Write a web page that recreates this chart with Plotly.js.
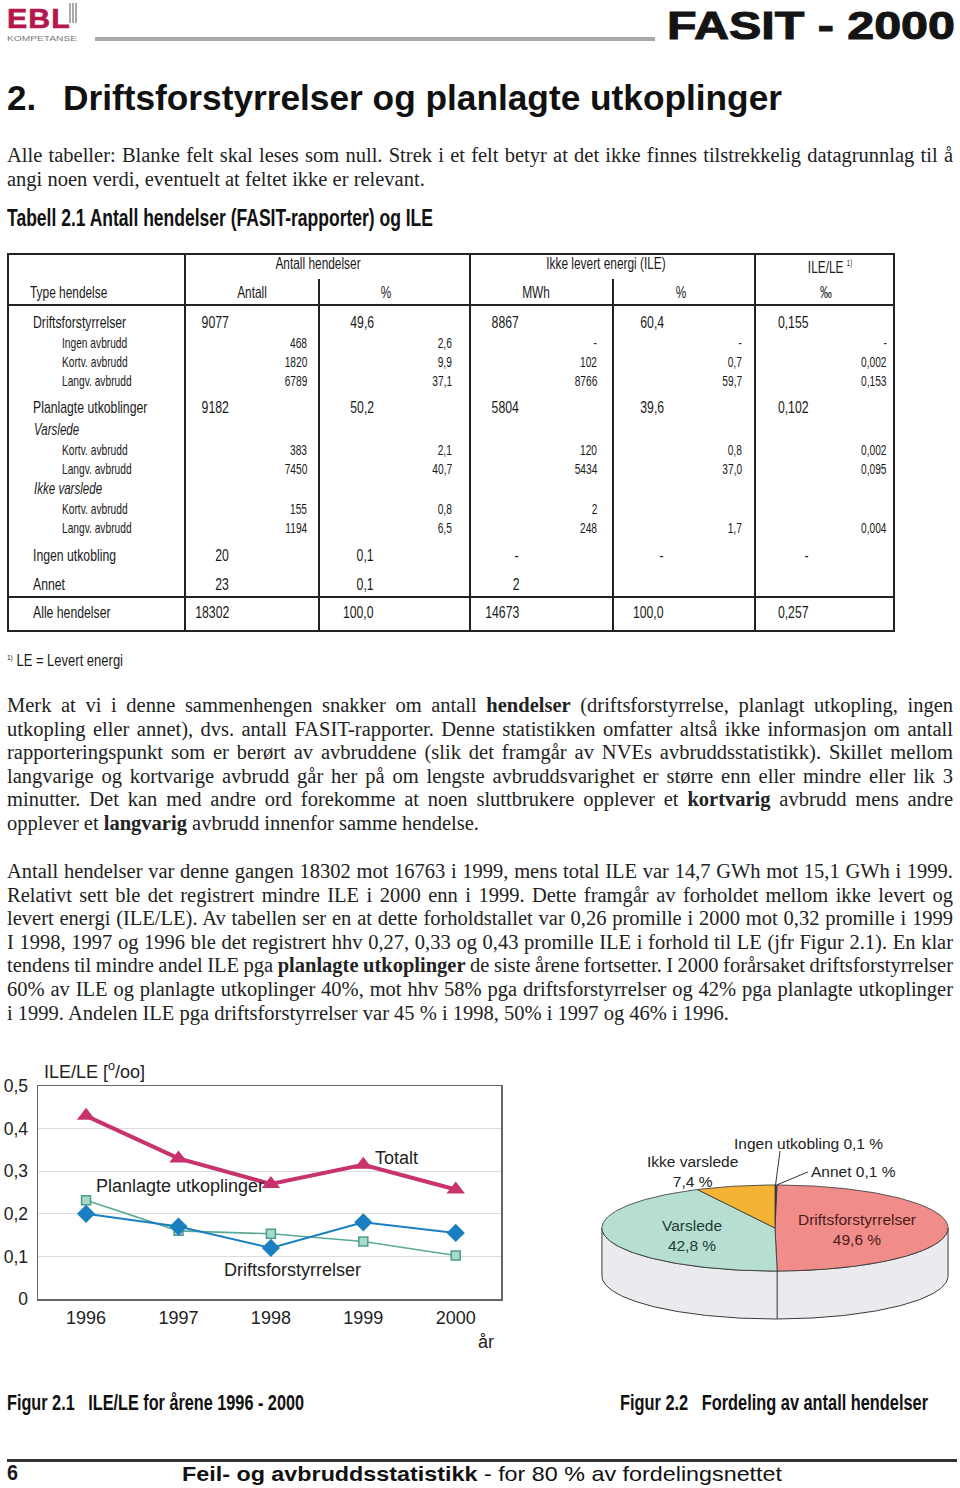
<!DOCTYPE html>
<html>
<head>
<meta charset="utf-8">
<script src="https://cdn.plot.ly/plotly-3.0.1.min.js"></script>
<style>
  html, body { margin: 0; padding: 0; background: #fff; }
  #page { position: relative; width: 960px; height: 1488px; overflow: hidden;
          font-family: "Liberation Sans", Arial, sans-serif; color: #1a1a1a; }
  .abs { position: absolute; white-space: nowrap; }
  .serif { font-family: "Liberation Serif", "Times New Roman", serif; font-size: 20.5px;
           line-height: 23.6px; color: #222; }
  .pline { position: absolute; left: 7px; white-space: nowrap; }
  .rule { position: absolute; background: #222; }
  sup.fn { font-size: 0.5em; vertical-align: 0.8em; }
  #lineChart { position: absolute; left: 0; top: 1050px; width: 520px; height: 320px; }
  #pieChart { position: absolute; left: 590px; top: 1120px; width: 370px; height: 220px; }
</style>
</head>
<body>
<div id="page">
  <div id="lineChart"></div>
  <div id="pieChart"></div>
</div>
<script>
// ---------------- DATA ----------------
// Table 2.1
const rowLabels = ["Driftsforstyrrelser", "Ingen avbrudd", "Kortv. avbrudd", "Langv. avbrudd",
  "Planlagte utkoblinger", "Varslede", "Kortv. avbrudd", "Langv. avbrudd",
  "Ikke varslede", "Kortv. avbrudd", "Langv. avbrudd", "Ingen utkobling", "Annet", "Alle hendelser"];
const rowKinds = ["main", "sub", "sub", "sub", "main", "group", "sub", "sub", "group", "sub", "sub", "main", "main", "total"];
const colAntall = ["9077", "468", "1820", "6789", "9182", "", "383", "7450", "", "155", "1194", "20", "23", "18302"];
const colAntallPct = ["49,6", "2,6", "9,9", "37,1", "50,2", "", "2,1", "40,7", "", "0,8", "6,5", "0,1", "0,1", "100,0"];
const colMWh = ["8867", "-", "102", "8766", "5804", "", "120", "5434", "", "2", "248", "-", "2", "14673"];
const colIlePct = ["60,4", "-", "0,7", "59,7", "39,6", "", "0,8", "37,0", "", "", "1,7", "-", "", "100,0"];
const colIleLe = ["0,155", "-", "0,002", "0,153", "0,102", "", "0,002", "0,095", "", "", "0,004", "-", "", "0,257"];
const headerTop = ["Antall hendelser", "Ikke levert energi (ILE)", "ILE/LE <sup class='fn'>1)</sup>"];
const headerSub = ["Type hendelse", "Antall", "%", "MWh", "%", "‰"];

// Figure 2.1: ILE/LE per year (promille)
const years = [1996, 1997, 1998, 1999, 2000];
const ileleTotalt = [0.43, 0.33, 0.27, 0.315, 0.257];
const ileleDrift = [0.20, 0.17, 0.12, 0.18, 0.155];
const ilelePlan = [0.232, 0.16, 0.153, 0.135, 0.102];
const lineSeriesNames = ["Totalt", "Planlagte utkoplinger", "Driftsforstyrrelser"];

// Figure 2.2: share of events (%)
const pieLabels = ["Ingen utkobling", "Annet", "Driftsforstyrrelser", "Varslede", "Ikke varslede"];
const pieValues = [0.1, 0.1, 49.6, 42.8, 7.4];

// ---------------- STYLE / LAYOUT ----------------
const page = document.getElementById('page');
const W = 960;

function el(html, cls) {
  const s = document.createElement('span');
  s.className = 'abs ' + (cls || '');
  s.innerHTML = html;
  page.appendChild(s);
  return s;
}
function place(html, x, yc, align, size, sx, extra) {
  const s = el(html);
  s.style.fontSize = size + 'px';
  s.style.lineHeight = (size * 1.2) + 'px';
  s.style.top = (yc - size * 0.59) + 'px';
  if (extra) Object.assign(s.style, extra);
  if (align === 'left') {
    s.style.left = x + 'px'; s.style.transformOrigin = 'left center';
    s.style.transform = 'scaleX(' + sx + ')';
  } else if (align === 'right') {
    s.style.right = (W - x) + 'px'; s.style.transformOrigin = 'right center';
    s.style.transform = 'scaleX(' + sx + ')';
  } else {
    s.style.left = x + 'px'; s.style.transformOrigin = 'center center';
    s.style.transform = 'translateX(-50%) scaleX(' + sx + ')';
  }
  return s;
}
function fitLeft(html, x, yc, size, width, extra) {
  const s = place(html, x, yc, 'left', size, 1, extra);
  s.style.transform = 'none';
  const w = s.getBoundingClientRect().width;
  s.style.transform = 'scaleX(' + (width / w) + ')';
  return s;
}
function rect(x, y, w, h, color) {
  const d = document.createElement('div');
  d.className = 'rule';
  d.style.left = x + 'px'; d.style.top = y + 'px';
  d.style.width = w + 'px'; d.style.height = h + 'px';
  if (color) d.style.background = color;
  page.appendChild(d);
  return d;
}
function justifyLine(s, target) {
  const w = s.getBoundingClientRect().width;
  const n = (s.textContent.trim().match(/\s+/g) || []).length;
  if (!n) return;
  let ws = (target - w) / n;
  if (ws < -1.2) {
    ws = -1.2;
    const w2 = w + ws * n;
    s.style.transformOrigin = 'left center';
    s.style.transform = 'scaleX(' + (target / w2) + ')';
  }
  s.style.wordSpacing = ws + 'px';
}
function paragraph(lines, top, lastFull) {
  lines.forEach((ln, i) => {
    const s = document.createElement('span');
    s.className = 'pline serif';
    s.innerHTML = ln;
    s.style.top = (top + i * 23.6) + 'px';
    page.appendChild(s);
    if (i < lines.length - 1 || lastFull) justifyLine(s, 946);
  });
}
function setBaseline(s, size, baseline) {
  s.style.lineHeight = (size * 1.12) + 'px';
  s.style.top = (baseline - size * 0.906) + 'px';
}

// ---- Header ----
const logo = fitLeft('EBL', 7, 17, 27, 64, { fontWeight: '900', color: '#b3174c', letterSpacing: '1px' });
logo.style.webkitTextStroke = '0.6px #b3174c';
setBaseline(logo, 27, 28.5);
const komp = fitLeft('KOMPETANSE', 7, 38, 7, 70, { color: '#777' });
setBaseline(komp, 7, 41);
rect(69, 3, 1.5, 20, '#aaa'); rect(72, 3, 1.5, 20, '#aaa'); rect(75, 3, 1.5, 20, '#aaa');
rect(95, 37, 560, 4, '#a9a9a9');
const fasit = fitLeft('FASIT - 2000', 667, 26, 39, 288, { fontWeight: 'bold', color: '#141414' });
fasit.style.webkitTextStroke = '1px #141414';

// ---- Heading ----
place('2.', 7, 97.5, 'left', 35, 1, { fontWeight: 'bold', color: '#111' });
fitLeft('Driftsforstyrrelser og planlagte utkoplinger', 63, 97.5, 35, 719, { fontWeight: 'bold', color: '#111' });

// ---- Paragraph 1 ----
paragraph([
  "Alle tabeller: Blanke felt skal leses som null. Strek i et felt betyr at det ikke finnes tilstrekkelig datagrunnlag til å",
  "angi noen verdi, eventuelt at feltet ikke er relevant."
], 144, false);

// ---- Table title ----
fitLeft('Tabell 2.1 Antall hendelser (FASIT-rapporter) og ILE', 7, 218, 24, 426, { fontWeight: 'bold', color: '#111' });

// ---- Table frame ----
const T = { x0: 7, x1: 895, y0: 253, y1: 632 };
const tf = document.createElement('div');
tf.style.cssText = 'position:absolute;left:' + T.x0 + 'px;top:' + T.y0 + 'px;width:' + (T.x1 - T.x0) +
  'px;height:' + (T.y1 - T.y0) + 'px;border:2.5px solid #222;box-sizing:border-box;';
page.appendChild(tf);
rect(T.x0, 304, T.x1 - T.x0, 2);
rect(T.x0, 596, T.x1 - T.x0, 2);
[185, 470, 755].forEach(x => rect(x - 0.75, T.y0, 1.5, T.y1 - T.y0));
[319, 613].forEach(x => rect(x - 0.75, 279, 1.5, T.y1 - 279));

// header texts
const hTopX = [318, 606, 830];
headerTop.forEach((t, i) => place(t, hTopX[i], 264, 'center', 16.5, 0.72));
place(headerSub[0], 30, 293, 'left', 16.5, 0.72);
const hSubX = [252, 386, 536, 681, 826];
headerSub.slice(1).forEach((t, i) => place(t, hSubX[i], 293, 'center', 16.5, 0.72));

// rows
const rowY = [323, 343, 362, 381, 408, 430, 450, 469, 489, 509, 528, 556, 585, 613];
const mainRight = [229, 374, 519, 664, 809];
const subRight = [307, 452, 597, 742, 887];
const kindStyle = {
  main: { size: 17, sx: 0.72, lx: 33, italic: false },
  total: { size: 17, sx: 0.72, lx: 33, italic: false },
  sub: { size: 15, sx: 0.68, lx: 62, italic: false },
  group: { size: 17, sx: 0.68, lx: 34, italic: true }
};
const cols = [colAntall, colAntallPct, colMWh, colIlePct, colIleLe];
rowLabels.forEach((lab, r) => {
  const st = kindStyle[rowKinds[r]];
  const extra = st.italic ? { fontStyle: 'italic' } : null;
  place(lab, st.lx, rowY[r], 'left', st.size, st.sx, extra);
  const rights = rowKinds[r] === 'sub' ? subRight : mainRight;
  cols.forEach((col, c) => {
    if (col[r] !== '') place(col[r], rights[c], rowY[r], 'right', st.size, st.sx);
  });
});

// footnote
fitLeft("<sup class='fn'>1)</sup> LE = Levert energi", 7, 657, 16, 116);

// ---- Paragraph 2 ----
paragraph([
  "Merk at vi i denne sammenhengen snakker om antall <b>hendelser</b> (driftsforstyrrelse, planlagt utkopling, ingen",
  "utkopling eller annet), dvs. antall FASIT-rapporter. Denne statistikken omfatter altså ikke informasjon om antall",
  "rapporteringspunkt som er berørt av avbruddene (slik det framgår av NVEs avbruddsstatistikk). Skillet mellom",
  "langvarige og kortvarige avbrudd går her på om lengste avbruddsvarighet er større enn eller mindre eller lik 3",
  "minutter. Det kan med andre ord forekomme at noen sluttbrukere opplever et <b>kortvarig</b> avbrudd mens andre",
  "opplever et <b>langvarig</b> avbrudd innenfor samme hendelse."
], 694, false);

// ---- Paragraph 3 ----
paragraph([
  "Antall hendelser var denne gangen 18302 mot 16763  i 1999, mens total ILE var 14,7 GWh mot 15,1 GWh i 1999.",
  "Relativt sett ble det registrert mindre ILE i 2000 enn i 1999. Dette framgår av forholdet mellom ikke levert og",
  "levert energi (ILE/LE). Av tabellen ser en at dette forholdstallet var 0,26 promille i 2000 mot 0,32 promille i 1999",
  "I 1998,  1997 og 1996 ble det registrert hhv 0,27, 0,33 og 0,43 promille ILE i forhold til LE (jfr Figur 2.1). En klar",
  "tendens til mindre andel ILE pga <b>planlagte utkoplinger</b> de siste årene fortsetter. I 2000 forårsaket driftsforstyrrelser",
  "60% av ILE og planlagte utkoplinger 40%, mot hhv 58% pga driftsforstyrrelser og 42% pga planlagte utkoplinger",
  "i 1999. Andelen ILE pga driftsforstyrrelser var 45 % i 1998, 50% i 1997 og 46% i 1996."
], 860, false);

// ---- Captions ----
fitLeft('Figur 2.1&nbsp;&nbsp;&nbsp;ILE/LE for årene 1996 - 2000', 7, 1403, 22, 297, { fontWeight: 'bold', color: '#111' });
fitLeft('Figur 2.2&nbsp;&nbsp;&nbsp;Fordeling av antall hendelser', 620, 1403, 22, 308, { fontWeight: 'bold', color: '#111' });

// ---- Footer ----
rect(7, 1459, 950, 3, '#333');
fitLeft('6', 7, 1473, 22, 11, { fontWeight: 'bold' });
fitLeft('<b>Feil- og avbruddsstatistikk</b> - for 80 % av fordelingsnettet', 182, 1473, 21, 600, { color: '#111' });

// ---------------- FIGURE 2.1 (line chart) ----------------
const fontC = { family: 'Liberation Sans, Arial, sans-serif', size: 18, color: '#222' };
const lineTraces = [
  { x: years, y: ilelePlan, name: lineSeriesNames[1], mode: 'lines+markers', type: 'scatter',
    line: { color: '#5aa896', width: 1.6 },
    marker: { symbol: 'square', size: 9, color: '#a8dacb', line: { color: '#4c9e8b', width: 1.5 } } },
  { x: years, y: ileleDrift, name: lineSeriesNames[2], mode: 'lines+markers', type: 'scatter',
    line: { color: '#1a7fc1', width: 2 },
    marker: { symbol: 'diamond', size: 14, color: '#1a7fc1' } },
  { x: years, y: ileleTotalt, name: lineSeriesNames[0], mode: 'lines+markers', type: 'scatter',
    line: { color: '#c8336e', width: 4 },
    marker: { symbol: 'triangle-up', size: 16, color: '#c8336e' } }
];
const lineLayout = {
  width: 520, height: 320,
  margin: { l: 38, r: 19, t: 36, b: 71 },
  paper_bgcolor: 'rgba(0,0,0,0)', plot_bgcolor: '#fff',
  separators: ',.',
  showlegend: false,
  font: fontC,
  xaxis: {
    range: [1995.48, 2000.49], tickvals: years, ticktext: years.map(String),
    showgrid: false, zeroline: false, showline: true, mirror: true,
    linecolor: '#666', linewidth: 1.5, ticks: '', tickfont: fontC, ticklabelstandoff: 2
  },
  yaxis: {
    range: [0, 0.5], tick0: 0, dtick: 0.1, showgrid: true, gridcolor: '#dcdcdc', gridwidth: 1,
    zeroline: false, showline: true, mirror: true, linecolor: '#666', linewidth: 1.5,
    ticks: '', tickfont: { family: fontC.family, size: 17.5, color: '#222' }, ticklabelstandoff: 5
  },
  annotations: [
    { x: 1999.36, y: 0.332, xref: 'x', yref: 'y', text: lineSeriesNames[0], showarrow: false, xanchor: 'center', yanchor: 'middle', font: fontC },
    { x: 1996.09, y: 0.266, xref: 'x', yref: 'y', text: lineSeriesNames[1], showarrow: false, xanchor: 'left', yanchor: 'middle', font: fontC },
    { x: 1998.23, y: 0.068, xref: 'x', yref: 'y', text: lineSeriesNames[2], showarrow: false, xanchor: 'center', yanchor: 'middle', font: fontC },
    { x: 0.968, y: -0.2, xref: 'paper', yref: 'paper', text: 'år', showarrow: false, xanchor: 'center', yanchor: 'middle', font: fontC },
    { x: 0.008, y: 1.072, xref: 'paper', yref: 'paper', text: 'ILE/LE [<sup>o</sup>/oo]', showarrow: false, xanchor: 'left', yanchor: 'middle', font: fontC }
  ]
};
Plotly.newPlot('lineChart', lineTraces, lineLayout, { staticPlot: true, displayModeBar: false });

// ---------------- FIGURE 2.2 (3D-look pie, drawn from the values) ----------------
const pieColors = ['#1f4f8f', '#2b6cb0', '#f08d8b', '#b6dfd2', '#f5b333'];
const pieTextColors = ['#222', '#222', '#4d1a1a', '#1d3b33', '#222'];
const RX = 1, RY = 0.2486, DEPTH = 0.277;
const deg = Math.PI / 180;
function ell(a) { return [RX * Math.sin(a * deg), RY * Math.cos(a * deg)]; }
const pieTraces = [];
// side band (front half)
const sx = [], sy = [];
for (let a = 90; a <= 270; a += 1) { const p = ell(a); sx.push(p[0]); sy.push(p[1]); }
for (let a = 270; a >= 90; a -= 1) { const p = ell(a); sx.push(p[0]); sy.push(p[1] - DEPTH); }
sx.push(sx[0]); sy.push(sy[0]);
pieTraces.push({ x: sx, y: sy, mode: 'lines', type: 'scatter', fill: 'toself', fillcolor: '#ebebef',
  line: { color: '#3a3a3a', width: 1 }, hoverinfo: 'skip' });
// top slices
const pieTotal = pieValues.reduce((a, b) => a + b, 0);
let cum = 0;
const sliceMid = [], bounds = [];
pieValues.forEach((v, i) => {
  const a1 = cum / pieTotal * 360, a2 = (cum + v) / pieTotal * 360;
  cum += v;
  sliceMid.push((a1 + a2) / 2); bounds.push(a2);
  const xs = [0], ys = [0];
  const n = Math.max(2, Math.ceil(a2 - a1));
  for (let k = 0; k <= n; k++) { const p = ell(a1 + (a2 - a1) * k / n); xs.push(p[0]); ys.push(p[1]); }
  xs.push(0); ys.push(0);
  pieTraces.push({ x: xs, y: ys, mode: 'lines', type: 'scatter', fill: 'toself', fillcolor: pieColors[i],
    line: { color: '#333', width: 0.8 }, hoverinfo: 'skip', name: pieLabels[i] });
});
// slice edges down the visible side
bounds.forEach(a => {
  if (a > 90 && a < 270) {
    const p = ell(a);
    pieTraces.push({ x: [p[0], p[0]], y: [p[1], p[1] - DEPTH], mode: 'lines', type: 'scatter',
      line: { color: '#333', width: 1 }, hoverinfo: 'skip' });
  }
});
// label positions (layout) in pie units
const pieLabelPos = [[0.191, 0.491], [0.451, 0.329], [0.474, -0.006], [-0.48, -0.046], [-0.474, 0.324]];
const pieLeaderTail = [[0.029, 0.445], [0.19, 0.324], null, null, null];
const fmt = v => v.toFixed(1).replace('.', ',') + ' %';
const pieAnn = [];
pieLabels.forEach((lab, i) => {
  const small = pieValues[i] < 1;
  pieAnn.push({ x: pieLabelPos[i][0], y: pieLabelPos[i][1], xref: 'x', yref: 'y',
    text: small ? lab + ' ' + fmt(pieValues[i]) : lab + '<br>' + fmt(pieValues[i]),
    showarrow: false, xanchor: 'center', yanchor: 'middle',
    font: { family: 'Liberation Sans, Arial, sans-serif', size: 15.5, color: pieTextColors[i] } });
  if (pieLeaderTail[i]) {
    const p = ell(sliceMid[i]);
    pieTraces.push({ x: [pieLeaderTail[i][0], p[0]], y: [pieLeaderTail[i][1], p[1]], mode: 'lines', type: 'scatter',
      line: { color: '#333', width: 1 }, hoverinfo: 'skip' });
  }
});
const pieLayout = {
  width: 370, height: 220, margin: { l: 0, r: 0, t: 0, b: 0 },
  paper_bgcolor: 'rgba(0,0,0,0)', plot_bgcolor: 'rgba(0,0,0,0)', showlegend: false,
  xaxis: { range: [-1.069, 1.069], visible: false, fixedrange: true },
  yaxis: { range: [-0.647, 0.624], visible: false, fixedrange: true },
  annotations: pieAnn
};
Plotly.newPlot('pieChart', pieTraces, pieLayout, { staticPlot: true, displayModeBar: false });
</script>
</body>
</html>
